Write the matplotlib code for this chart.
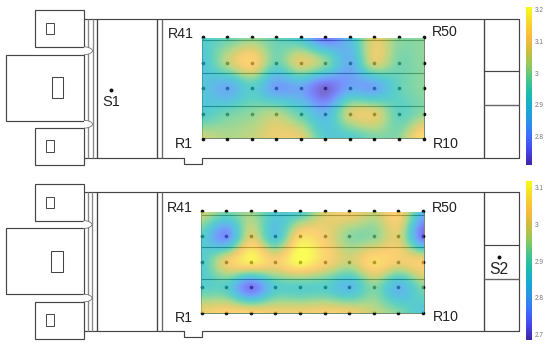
import numpy as np
import matplotlib
matplotlib.use("Agg")
import matplotlib.pyplot as plt
from matplotlib.colors import LinearSegmentedColormap
from matplotlib.patches import Rectangle, PathPatch
from matplotlib.path import Path

plt.rcParams['font.family'] = ['Liberation Sans', 'DejaVu Sans']

# Values at the R1..R50 measuring points, rows from R41-R50 (top) to R1-R10 (bottom)
top_values = [
    [2.93, 2.96, 3.00, 2.96, 2.90, 2.76, 2.88, 3.08, 3.00, 3.00],
    [2.90, 3.04, 3.13, 2.97, 3.08, 3.00, 2.85, 3.07, 2.98, 3.00],
    [2.90, 2.84, 2.93, 2.82, 2.83, 2.73, 2.83, 2.83, 2.95, 3.00],
    [2.92, 2.97, 3.00, 3.03, 2.95, 2.86, 3.06, 3.08, 2.95, 3.00],
    [3.06, 3.03, 3.05, 3.10, 3.09, 2.92, 2.92, 2.98, 3.00, 3.17],
]
bottom_values = [
    [3.00, 2.93, 2.95, 2.87, 2.87, 3.00, 3.04, 2.99, 3.05, 2.83],
    [2.88, 2.76, 3.00, 2.85, 3.06, 3.03, 2.94, 2.94, 3.00, 2.72],
    [2.87, 3.02, 3.10, 3.04, 3.12, 3.05, 2.99, 3.07, 3.03, 3.04],
    [2.88, 2.88, 2.73, 2.87, 2.88, 2.88, 2.83, 2.93, 2.82, 2.93],
    [3.03, 3.05, 3.05, 3.03, 3.03, 3.04, 3.03, 2.98, 2.93, 2.85],
]
top_range = (2.712, 3.212)
bottom_range = (2.69, 3.122)
top_ticks = [2.8, 2.9, 3.0, 3.1, 3.2]
bottom_ticks = [2.7, 2.8, 2.9, 3.0, 3.1]
tick_labels = {2.7: '2.7', 2.8: '2.8', 2.9: '2.9', 3.0: '3', 3.1: '3.1', 3.2: '3.2'}

parula = LinearSegmentedColormap.from_list('parula_like', [
    '#3E26A8', '#4746EB', '#3F6DFD', '#2B93E8', '#16ADD0', '#1BBDB0',
    '#4CC688', '#94C95B', '#D2BC3C', '#FBBC3C', '#F6D92E', '#F9FB15'])

LINE = '#444444'
fig = plt.figure(figsize=(5.5, 3.45), dpi=100)
ax = fig.add_axes([0, 0, 1, 1])
ax.axis('off')


def rect(x0, y0, x1, y1, ec=LINE, lw=0.85):
    ax.add_patch(Rectangle((x0, y0), x1 - x0, y1 - y0, fc='none', ec=ec, lw=lw, zorder=1))


def line(xs, ys, ec=LINE, lw=0.85):
    ax.plot(xs, ys, color=ec, lw=lw, zorder=1, solid_capstyle='butt')


def bump(x, y0, y1):
    m = (y0 + y1) / 2
    p = Path([(x, y0), (x + 4, y0 - 0.5), (x + 8.5, m - 2), (x + 8.5, m),
              (x + 8.5, m + 2), (x + 4, y1 + 0.5), (x, y1)],
             [Path.MOVETO] + [Path.CURVE4] * 6)
    ax.add_patch(PathPatch(p, fc='white', ec='#666666', lw=0.55, zorder=2))


def panel(dy, dx, dots_y, heat_y, values, vr, band_y, cbar_y, ticks, tick_scale, tick_ref):
    # boxes on the left
    rect(35 + dx, 10 + dy, 84 + dx, 47 + dy)
    rect(46 + dx, 23 + dy, 54 + dx, 34 + dy, lw=0.7)
    rect(6 + dx, 54.5 + dy, 84 + dx, 120.5 + dy)
    rect(51.5 + dx, 77 + dy, 63 + dx, 98 + dy, lw=0.75)
    rect(35 + dx, 128 + dy, 84 + dx, 165 + dy)
    rect(46 + dx, 140 + dy, 54 + dx, 152 + dy, lw=0.7)
    # main hall
    T, B = 18.5 + dy, 157.5 + dy
    line([84 + dx, 519 + dx, 519 + dx, 202 + dx, 202 + dx, 184 + dx, 184 + dx, 84 + dx],
         [T, T, B, B, B + 6, B + 6, B, B])
    for x, c in [(88, '#888888'), (92.5, '#888888'), (97, LINE), (157, LINE), (162, '#666666'), (484, LINE)]:
        line([x + dx, x + dx], [T, B], ec=c, lw=0.95)
    line([484 + dx, 519 + dx], [71 + dy, 71 + dy])
    line([484 + dx, 519 + dx], [104.7 + dy, 104.7 + dy], ec='#666666', lw=1.0)
    bump(84 + dx, 47 + dy, 54.5 + dy)
    bump(84 + dx, 120.5 + dy, 128 + dy)
    # measuring points and lines beneath the translucent field
    gx = np.linspace(202.5 + dx * 2, 423.5 + dx * 1, 10)
    gy = np.asarray(dots_y)
    X, Y = np.meshgrid(gx, gy)
    ax.scatter(X, Y, s=7, c='#111111', linewidths=0, zorder=3)
    hx0, hx1, hy0, hy1 = gx[0] - 0.5, gx[-1] + 0.5, heat_y[0], heat_y[1]
    for y in band_y:
        line([hx0, hx1], [y, y], ec='#333333', lw=0.8)
    line([hx0, hx0, hx1, hx1], [hy0, hy1, hy1, hy0], ec='#557755', lw=0.6)
    ddx = (gx[1] - gx[0]) / 2
    ddy = (gy[-1] - gy[0]) / 8
    im = ax.imshow(np.asarray(values), extent=(gx[0] - ddx, gx[-1] + ddx, gy[-1] + ddy, gy[0] - ddy),
                   cmap=parula, vmin=vr[0], vmax=vr[1], interpolation='catrom',
                   interpolation_stage='data', aspect='auto', alpha=0.72, zorder=4)
    im.set_clip_path(Rectangle((hx0, hy0), hx1 - hx0, hy1 - hy0, transform=ax.transData))
    # colour bar
    cb = np.linspace(vr[1], vr[0], 256).reshape(-1, 1)
    ax.imshow(cb, extent=(526, 531.7, cbar_y[1], cbar_y[0]), cmap=parula, vmin=vr[0], vmax=vr[1],
              aspect='auto', interpolation='bilinear', zorder=4)
    for t in ticks:
        ypos = tick_ref + (3.0 - t) * tick_scale
        ax.text(534.5, ypos, tick_labels[t], fontsize=4.7, color='#777777', va='center', ha='left', zorder=5)


panel(0, 0, [37, 62.5, 88, 113.5, 138.5], (38, 138), top_values, top_range, [40, 72.5, 105.5],
      (7, 165), top_ticks, 317, 74)
panel(173.8, -0.5, [211, 236, 261.5, 287, 313], (211.5, 313), bottom_values, bottom_range, [214.5, 246.5, 279],
      (181.3, 339.7), bottom_ticks, 367, 225.3)

labels = [
    ('R41', 180.5, 33.5), ('R50', 445, 32.5), ('R1', 184, 144), ('R10', 446, 143.5),
    ('R41', 180, 208.5), ('R50', 445, 207.5), ('R1', 183.5, 318), ('R10', 446, 317),
]
for s, x, y in labels:
    ax.text(x, y, s, fontsize=10.2, color='#222222', ha='center', va='center', zorder=6)
ax.text(111, 102, 'S1', fontsize=10.5, color='#222222', ha='center', va='center', zorder=6)
ax.text(499, 269, 'S2', fontsize=11.3, color='#222222', ha='center', va='center', zorder=6)
ax.scatter([111, 499], [89.5, 256.7], s=8, c='#111111', linewidths=0, zorder=6)

ax.set_xlim(0, 550)
ax.set_ylim(345, 0)
fig.savefig('out.png', dpi=100, facecolor='white')
